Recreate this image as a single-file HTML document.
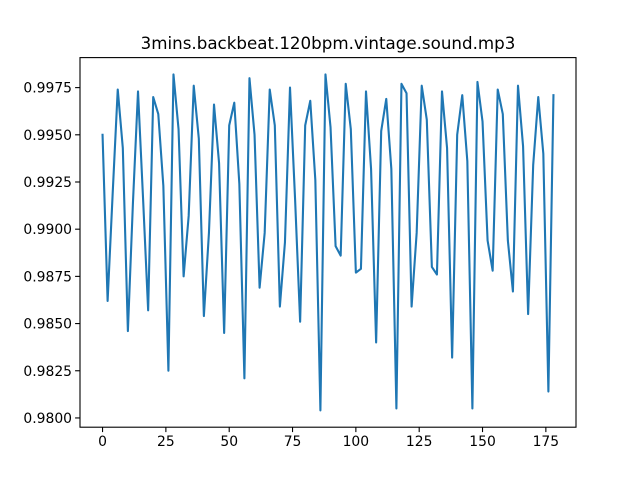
<!DOCTYPE html>
<html><head><meta charset="utf-8"><style>
html,body{margin:0;padding:0;background:#fff;}
svg{display:block;font-family:"DejaVu Sans","Liberation Sans",sans-serif;}
</style></head><body>
<svg id="chart" width="640" height="480" viewBox="0 0 640 480" xmlns="http://www.w3.org/2000/svg">
<rect width="640" height="480" fill="#fff"/>
<text x="328" y="49" text-anchor="middle" font-size="16.7" fill="#000">3mins.backbeat.120bpm.vintage.sound.mp3</text>
<g id="plot"></g>
</svg>
<script>
const values = [0.9950,0.9862,0.9919,0.9974,0.9943,0.9846,0.9914,0.9973,0.9916,0.9857,
0.9970,0.9961,0.9923,0.9825,0.9982,0.9953,0.9875,0.9907,0.9976,0.9948,
0.9854,0.9898,0.9966,0.9935,0.9845,0.9955,0.9967,0.9924,0.9821,0.9980,
0.9950,0.9869,0.9898,0.9974,0.9955,0.9859,0.9893,0.9975,0.9916,0.9851,
0.9955,0.9968,0.9926,0.9804,0.9982,0.9954,0.9891,0.9886,0.9977,0.9953,
0.9877,0.9879,0.9973,0.9932,0.9840,0.9952,0.9969,0.9932,0.9805,0.9977,
0.9972,0.9859,0.9898,0.9976,0.9958,0.9880,0.9876,0.9973,0.9943,0.9832,
0.9950,0.9971,0.9936,0.9805,0.9978,0.9957,0.9894,0.9878,0.9974,0.9961,
0.9894,0.9867,0.9976,0.9944,0.9855,0.9934,0.9970,0.9940,0.9814,0.9971];
const xValues = values.map((v,i)=>i*2);
const xTicks = [0,25,50,75,100,125,150,175];
const yTicks = [0.9800,0.9825,0.9850,0.9875,0.9900,0.9925,0.9950,0.9975];

const L=80,R=576,T=57.6,B=427.2;
const NS="http://www.w3.org/2000/svg";
const xmin=Math.min(...xValues), xmax=Math.max(...xValues);
const ymin=Math.min(...values), ymax=Math.max(...values);
const xlo=xmin-(xmax-xmin)*0.05, xhi=xmax+(xmax-xmin)*0.05;
const ylo=ymin-(ymax-ymin)*0.05, yhi=ymax+(ymax-ymin)*0.05;
function sx(v){return L+(v-xlo)/(xhi-xlo)*(R-L);}
function sy(v){return B-(v-ylo)/(yhi-ylo)*(B-T);}
const g=document.getElementById('plot');
function mk(tag,attrs){const e=document.createElementNS(NS,tag);for(const k in attrs)e.setAttribute(k,attrs[k]);g.appendChild(e);return e;}

const line=mk('polyline',{points:values.map((v,i)=>sx(xValues[i]).toFixed(2)+','+sy(v).toFixed(2)).join(' '),fill:'none',stroke:'#1f77b4','stroke-width':2.1,'stroke-linejoin':'round','stroke-linecap':'square'});



const frame=mk('rect',{x:L,y:T,width:R-L,height:B-T,fill:'none',stroke:'#000','stroke-width':1.1});



xTicks.forEach(t=>{
  const x=sx(t);
  const tk=mk('line',{x1:x,x2:x,y1:B,y2:B+4.9,stroke:'#000','stroke-width':1.1});
  
  
  const lb=mk('text',{x:x,y:B+19,'text-anchor':'middle','font-size':13.9,fill:'#000'});
  lb.textContent=String(t);
  
  
});
yTicks.forEach(t=>{
  const y=sy(t);
  const tk=mk('line',{x1:L-4.9,x2:L,y1:y,y2:y,stroke:'#000','stroke-width':1.1});
  
  
  const lb=mk('text',{x:L-8,y:y+5,'text-anchor':'end','font-size':13.9,fill:'#000'});
  lb.textContent=t.toFixed(4);
  
  
});
</script>
</body></html>
